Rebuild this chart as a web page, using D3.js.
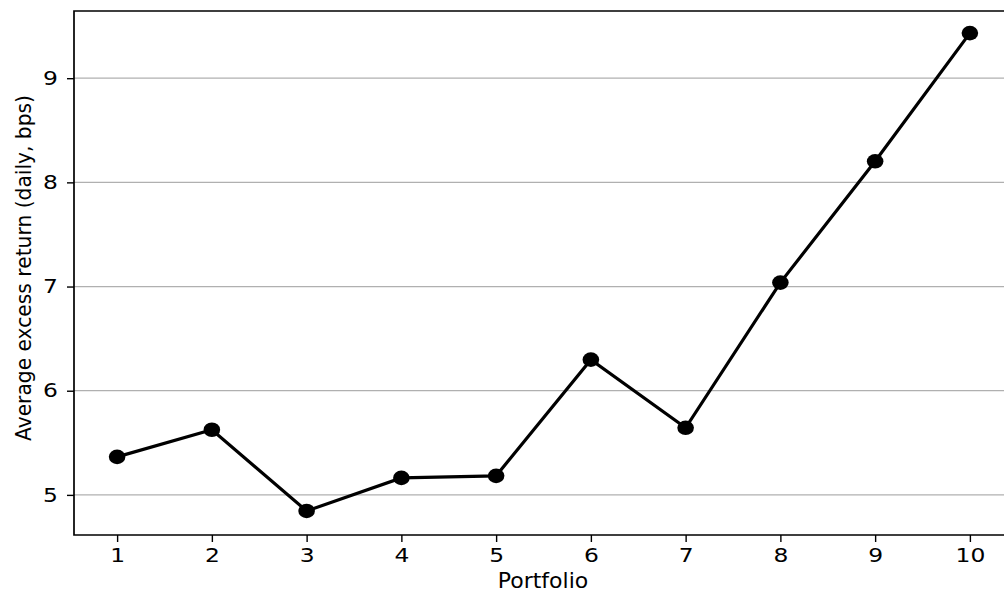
<!DOCTYPE html>
<html>
<head>
<meta charset="utf-8">
<script src="https://cdn.jsdelivr.net/npm/d3@7"></script>
<style>
  body { margin: 0; background: #fff; }
  text { font-family: "DejaVu Sans", sans-serif; fill: #000; }
</style>
</head>
<body>
<div id="chart"></div>
<script>
// --> DATA
var portfolios = [1, 2, 3, 4, 5, 6, 7, 8, 9, 10];
var excessReturn = [5.365, 5.625, 4.846, 5.163, 5.183, 6.298, 5.644, 7.038, 8.202, 9.433];
var yTicks = [5, 6, 7, 8, 9];

// --> SVG DRAWING AREA
var width = 1004,
    height = 595;
var plot = { left: 74, top: 11, right: 1013, bottom: 535 };

var svg = d3.select("#chart").append("svg")
    .attr("width", width)
    .attr("height", height);

var x = d3.scaleLinear().domain([0.545, 10.455]).range([plot.left, plot.right]);
var y = d3.scaleLinear().domain([4.615, 9.645]).range([plot.bottom, plot.top]);

// grid
svg.append("g")
    .selectAll("line")
    .data(yTicks)
    .enter().append("line")
    .attr("x1", plot.left)
    .attr("x2", plot.right)
    .attr("y1", function(d) { return y(d); })
    .attr("y2", function(d) { return y(d); })
    .attr("stroke", "#b0b0b0")
    .attr("stroke-width", 1.3);

// axes
var xAxis = d3.axisBottom(x).tickValues(portfolios).tickSize(7).tickPadding(6);
var yAxis = d3.axisLeft(y).tickValues(yTicks).tickFormat(d3.format("d")).tickSize(7).tickPadding(9);

var gx = svg.append("g")
    .attr("transform", "translate(0," + plot.bottom + ")")
    .call(xAxis);
var gy = svg.append("g")
    .attr("transform", "translate(" + plot.left + ",0)")
    .call(yAxis);

[gx, gy].forEach(function(g) {
    g.attr("font-size", null).attr("font-family", null);
    g.select(".domain").remove();
    g.selectAll("line").attr("stroke", "#000").attr("stroke-width", 1.4);
    g.selectAll("text").style("font-size", "19.5px").attr("fill", "#000");
});
// the reference glyphs are a bit wider than tall
gx.selectAll("text").attr("transform", "scale(1.2,1)");
gy.selectAll("text").attr("x", 0).attr("transform", "translate(-16,0) scale(1.2,1)");

// spines
svg.append("path")
    .attr("d", "M" + plot.right + "," + plot.top + "H" + plot.left + "V" + plot.bottom + "H" + plot.right)
    .attr("fill", "none")
    .attr("stroke", "#000")
    .attr("stroke-width", 1.7);

// line + markers
var line = d3.line()
    .x(function(d, i) { return x(portfolios[i]); })
    .y(function(d) { return y(d); });

svg.append("path")
    .datum(excessReturn)
    .attr("d", line)
    .attr("fill", "none")
    .attr("stroke", "#000")
    .attr("stroke-width", 3.2);

svg.append("g")
    .selectAll("ellipse")
    .data(excessReturn)
    .enter().append("ellipse")
    .attr("cx", function(d, i) { return x(portfolios[i]); })
    .attr("cy", function(d) { return y(d); })
    .attr("rx", 8.3)
    .attr("ry", 7.3)
    .attr("fill", "#000");

// labels
svg.append("text")
    .attr("x", 543)
    .attr("y", 588)
    .attr("text-anchor", "middle")
    .style("font-size", "22px")
    .text("Portfolio");

svg.append("text")
    .attr("transform", "translate(31,268) rotate(-90)")
    .attr("text-anchor", "middle")
    .style("font-size", "21px")
    .attr("textLength", 346)
    .attr("lengthAdjust", "spacingAndGlyphs")
    .text("Average excess return (daily, bps)");
</script>
</body>
</html>
